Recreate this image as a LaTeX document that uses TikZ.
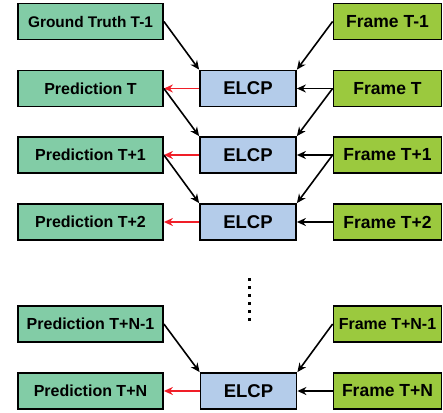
\documentclass[tikz,border=0pt]{standalone}
\usepackage{fontspec}
\setmainfont{Liberation Sans}
\usetikzlibrary{arrows.meta}
\definecolor{lgreen}{RGB}{130,204,166}
\definecolor{lblue}{RGB}{180,204,234}
\definecolor{lime}{RGB}{155,201,62}
\definecolor{arrred}{RGB}{240,30,40}
\tikzset{
  box/.style={draw=black, line width=1.8pt, inner sep=0pt, minimum height=36pt, minimum width=#1, align=center, font=\bfseries\fontsize{16}{18}\selectfont},
  predbox/.style={box=145pt, fill=lgreen},
  elcpbox/.style={box=96pt, fill=lblue, font=\bfseries\fontsize{18.5}{20}\selectfont},
  framebox/.style={box=108pt, fill=lime, font=\bfseries\fontsize{17.5}{20}\selectfont},
  arr/.style={-{Stealth[length=9pt,width=8pt]}, line width=1.6pt, draw=black},
  redline/.style={arr, draw=arrred},
}
\begin{document}
\begin{tikzpicture}[x=1pt,y=-1pt]
\useasboundingbox (0,0) rectangle (443,412);
% left column
\node[predbox, font=\bfseries\fontsize{15.4}{18}\selectfont] (gt) at (90.5,21.5) {Ground Truth T-1};
\node[predbox] (pT) at (90.5,88.5) {Prediction T};
\node[predbox] (pT1) at (90.5,155) {Prediction T+1};
\node[predbox] (pT2) at (90.5,222) {Prediction T+2};
\node[predbox] (pN1) at (90.5,324) {Prediction T+N-1};
\node[predbox] (pN) at (90.5,391) {Prediction T+N};
% middle column
\node[elcpbox] (e1) at (248,88.5) {ELCP};
\node[elcpbox] (e2) at (248,155) {ELCP};
\node[elcpbox] (e3) at (248,222) {ELCP};
\node[elcpbox] (e4) at (248.5,391) {ELCP};
% right column
\node[framebox] (f0) at (387.5,21.5) {Frame T-1};
\node[framebox] (fT) at (387.5,88.5) {Frame T};
\node[framebox] (fT1) at (387.5,155) {Frame T+1};
\node[framebox] (fT2) at (387.5,222) {Frame T+2};
\node[framebox, font=\bfseries\fontsize{16}{18}\selectfont] (fN1) at (387.5,324) {Frame T+N-1};
\node[framebox] (fN) at (387.5,391) {Frame T+N};
% dots
\foreach \i in {0,...,5} {
  \fill (247.5,{278+8*\i}) rectangle (250.5,{281+8*\i});
}
% connectors
\draw[arr] (gt.east) -- (e1.north west);
\draw[arr] (f0.west) -- (e1.north east);
\draw[arr] (fT.west) -- (e1.east);
\draw[redline] (e1.west) -- (pT.east);
\draw[arr] (pT.east) -- (e2.north west);
\draw[arr] (fT.west) -- (e2.north east);
\draw[arr] (fT1.west) -- (e2.east);
\draw[redline] (e2.west) -- (pT1.east);
\draw[arr] (pT1.east) -- (e3.north west);
\draw[arr] (fT1.west) -- (e3.north east);
\draw[arr] (fT2.west) -- (e3.east);
\draw[redline] (e3.west) -- (pT2.east);
\draw[arr] (pN1.east) -- (e4.north west);
\draw[arr] (fN1.west) -- (e4.north east);
\draw[arr] (fN.west) -- (e4.east);
\draw[redline] (e4.west) -- (pN.east);
\end{tikzpicture}
\end{document}
